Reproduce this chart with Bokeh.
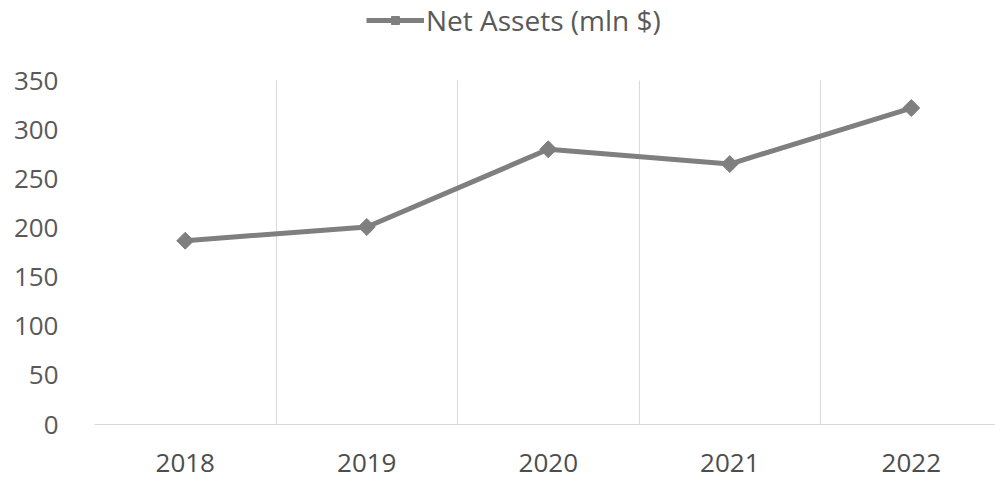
import math
from bokeh.plotting import figure
from bokeh.models import ColumnDataSource, FixedTicker, Legend, LegendItem, BoxAnnotation
from bokeh.embed import file_html
from bokeh.resources import INLINE

years = ["2018", "2019", "2020", "2021", "2022"]
net_assets = [187, 201, 280, 265, 322]
series_name = "Net Assets (mln $)"
y_ticks = [0, 50, 100, 150, 200, 250, 300, 350]
y_max = 350

xs = list(range(len(years)))
src = ColumnDataSource(dict(x=xs, y=net_assets, year=years))

FONT = "Open Sans"
TXT = "#595959"
GRAY = "#7f7f7f"

# frame spans the whole height above the x axis; the value axis tops out at 350 at y=80px
frame_h = 424
y_end = y_max * frame_h / 344.0

p = figure(width=995, height=479, output_backend="svg", toolbar_location=None,
           x_range=(-0.5, 4.464), y_range=(0, y_end),
           min_border_left=94, min_border_right=0, min_border_top=0, min_border_bottom=55)
p.background_fill_color = "#ffffff"
p.border_fill_color = "#ffffff"
p.outline_line_color = None

# hide the grid above the top of the value axis
p.add_layout(BoxAnnotation(bottom=y_max, fill_color="#ffffff", fill_alpha=1.0,
                           line_color=None, level="underlay"))

ln = p.line("x", "y", source=src, line_color=GRAY, line_width=5)
mk = p.scatter("x", "y", source=src, marker="square", size=12, angle=math.pi / 4,
               fill_color=GRAY, line_color=GRAY)

# axes
p.xaxis.ticker = FixedTicker(ticks=xs)
p.xaxis.major_label_overrides = {i: y for i, y in enumerate(years)}
p.xaxis.axis_line_color = "#d9d9d9"
p.xaxis.major_tick_line_color = None
p.xaxis.minor_tick_line_color = None
p.xaxis.major_label_text_font = FONT
p.xaxis.major_label_text_font_size = "26px"
p.xaxis.major_label_text_color = "#4d4d4d"
p.xaxis.major_label_standoff = 23

p.yaxis.ticker = FixedTicker(ticks=y_ticks)
p.yaxis.axis_line_color = None
p.yaxis.major_tick_line_color = None
p.yaxis.minor_tick_line_color = None
p.yaxis.major_label_text_font = FONT
p.yaxis.major_label_text_font_size = "26px"
p.yaxis.major_label_text_color = TXT
p.yaxis.major_label_standoff = 30

p.ygrid.grid_line_color = None
p.xgrid.ticker = FixedTicker(ticks=[-0.5, 0.5, 1.5, 2.5, 3.5, 4.5])
p.xgrid.grid_line_color = "#d9d9d9"
p.xgrid.grid_line_width = 1

legend = Legend(items=[LegendItem(label=series_name, renderers=[ln, mk])],
                orientation="horizontal", location=(272, 385),
                glyph_width=58, glyph_height=20, label_standoff=2,
                label_text_font=FONT, label_text_font_size="28px",
                label_text_color=TXT, border_line_color=None,
                background_fill_alpha=0, padding=4, margin=0)
p.add_layout(legend)

open("out.html", "w").write(file_html(p, INLINE))
